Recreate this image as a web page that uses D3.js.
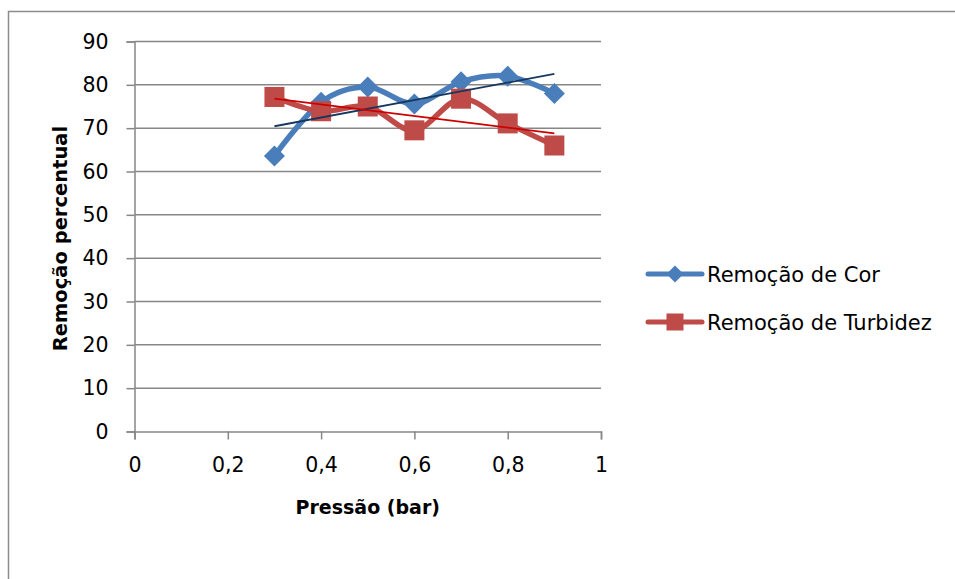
<!DOCTYPE html>
<html>
<head>
<meta charset="utf-8">
<script src="https://cdn.jsdelivr.net/npm/d3@7"></script>
<style>
  html, body { margin: 0; padding: 0; background: #fff; }
  svg { display: block; font-family: "DejaVu Sans", sans-serif; }
</style>
</head>
<body>
<svg id="chart" width="955" height="579"></svg>
<script>
// Pressure levels (bar) and removal percentages
const pressao = [0.3, 0.4, 0.5, 0.6, 0.7, 0.8, 0.9];
const remocaoCor = [63.6, 76.0, 79.5, 75.6, 80.7, 82.0, 78.0];
const remocaoTurbidez = [77.2, 73.9, 75.0, 69.5, 76.8, 71.1, 66.0];

const xTicks = [0, 0.2, 0.4, 0.6, 0.8, 1];
const yTicks = [0, 10, 20, 30, 40, 50, 60, 70, 80, 90];
const seriesNames = ["Remoção de Cor", "Remoção de Turbidez"];

const svg = d3.select("#chart");
const W = 955, H = 579;

// outer chart frame
svg.append("rect")
  .attr("x", 8.5).attr("y", 11.5)
  .attr("width", W + 20).attr("height", H + 20)
  .attr("fill", "#fff").attr("stroke", "#8c8c8c").attr("stroke-width", 1.5);

const x = d3.scaleLinear().domain([0, 1]).range([134.5, 601]);
const y = d3.scaleLinear().domain([0, 90]).range([431.5, 41.5]);

const gridColor = "#878787";

// horizontal gridlines
svg.append("g").selectAll("line").data(yTicks.slice(1)).join("line")
  .attr("x1", x(0)).attr("x2", x(1))
  .attr("y1", d => y(d)).attr("y2", d => y(d))
  .attr("stroke", gridColor).attr("stroke-width", 1.5);

// y axis
const yAxis = svg.append("g")
  .attr("transform", `translate(${x(0)},0)`)
  .call(d3.axisLeft(y).tickValues(yTicks).tickSize(8).tickPadding(18).tickFormat(d3.format("d")));
yAxis.select(".domain").attr("stroke", gridColor).attr("stroke-width", 1.5);
yAxis.selectAll(".tick line").attr("stroke", gridColor).attr("stroke-width", 1.5);
yAxis.selectAll("text").attr("font-size", 20.5).attr("fill", "#000")
  .attr("font-family", "DejaVu Sans");

// x axis
const fmtComma = d => d === 0 ? "0" : d === 1 ? "1" : String(d).replace(".", ",");
const xAxis = svg.append("g")
  .attr("transform", `translate(0,${y(0)})`)
  .call(d3.axisBottom(x).tickValues(xTicks).tickSize(8).tickPadding(18).tickFormat(fmtComma));
xAxis.select(".domain").attr("stroke", gridColor).attr("stroke-width", 1.5);
xAxis.selectAll(".tick line").attr("stroke", gridColor).attr("stroke-width", 1.5);
xAxis.selectAll("text").attr("font-size", 20.5).attr("fill", "#000")
  .attr("font-family", "DejaVu Sans");

// axis titles
svg.append("text")
  .attr("x", (x(0) + x(1)) / 2).attr("y", 514)
  .attr("text-anchor", "middle")
  .attr("font-size", 19).attr("font-weight", "bold").attr("fill", "#000")
  .text("Pressão (bar)");
svg.append("text")
  .attr("transform", `translate(67,${(y(0) + y(90)) / 2 + 2}) rotate(-90)`)
  .attr("text-anchor", "middle")
  .attr("font-size", 19.5).attr("font-weight", "bold").attr("fill", "#000")
  .text("Remoção percentual");

const series = [
  { name: seriesNames[0], values: remocaoCor, color: "#4A7EBB", trend: "#17375E", marker: "diamond" },
  { name: seriesNames[1], values: remocaoTurbidez, color: "#BE4B48", trend: "#CC0000", marker: "square" }
];

const smooth = d3.line()
  .x(d => x(d[0])).y(d => y(d[1]))
  .curve(d3.curveCatmullRom.alpha(0));

function drawMarker(g, type, cx, cy, size, color) {
  if (type === "diamond") {
    g.append("path")
      .attr("d", `M${cx},${cy - size}L${cx + size},${cy}L${cx},${cy + size}L${cx - size},${cy}Z`)
      .attr("fill", color);
  } else {
    g.append("rect")
      .attr("x", cx - size).attr("y", cy - size)
      .attr("width", size * 2).attr("height", size * 2)
      .attr("fill", color);
  }
}

// smoothed series lines with markers
series.forEach(s => {
  const pts = pressao.map((p, i) => [p, s.values[i]]);
  const g = svg.append("g");
  g.append("path")
    .attr("d", smooth(pts))
    .attr("fill", "none").attr("stroke", s.color)
    .attr("stroke-width", 5.5).attr("stroke-linejoin", "round").attr("stroke-linecap", "round");
  pts.forEach(p => drawMarker(g, s.marker, x(p[0]), y(p[1]), s.marker === "diamond" ? 10.5 : 10, s.color));
});

// linear trendlines (least squares)
series.forEach(s => {
  const n = pressao.length;
  const mx = d3.mean(pressao), my = d3.mean(s.values);
  let sxy = 0, sxx = 0;
  for (let i = 0; i < n; i++) {
    sxy += (pressao[i] - mx) * (s.values[i] - my);
    sxx += (pressao[i] - mx) ** 2;
  }
  const b = sxy / sxx, a = my - b * mx;
  const x0 = d3.min(pressao), x1 = d3.max(pressao);
  svg.append("line")
    .attr("x1", x(x0)).attr("y1", y(a + b * x0))
    .attr("x2", x(x1)).attr("y2", y(a + b * x1))
    .attr("stroke", s.trend).attr("stroke-width", 1.8);
});

// legend
const legend = svg.append("g");
series.forEach((s, i) => {
  const ly = 274 + i * 48;
  legend.append("line")
    .attr("x1", 648).attr("x2", 702).attr("y1", ly).attr("y2", ly)
    .attr("stroke", s.color).attr("stroke-width", 5).attr("stroke-linecap", "round");
  drawMarker(legend, s.marker, 675, ly, 8.5, s.color);
  legend.append("text")
    .attr("x", 707).attr("y", ly + 8)
    .attr("font-size", 21).attr("fill", "#000")
    .text(s.name);
});
</script>
</body>
</html>
